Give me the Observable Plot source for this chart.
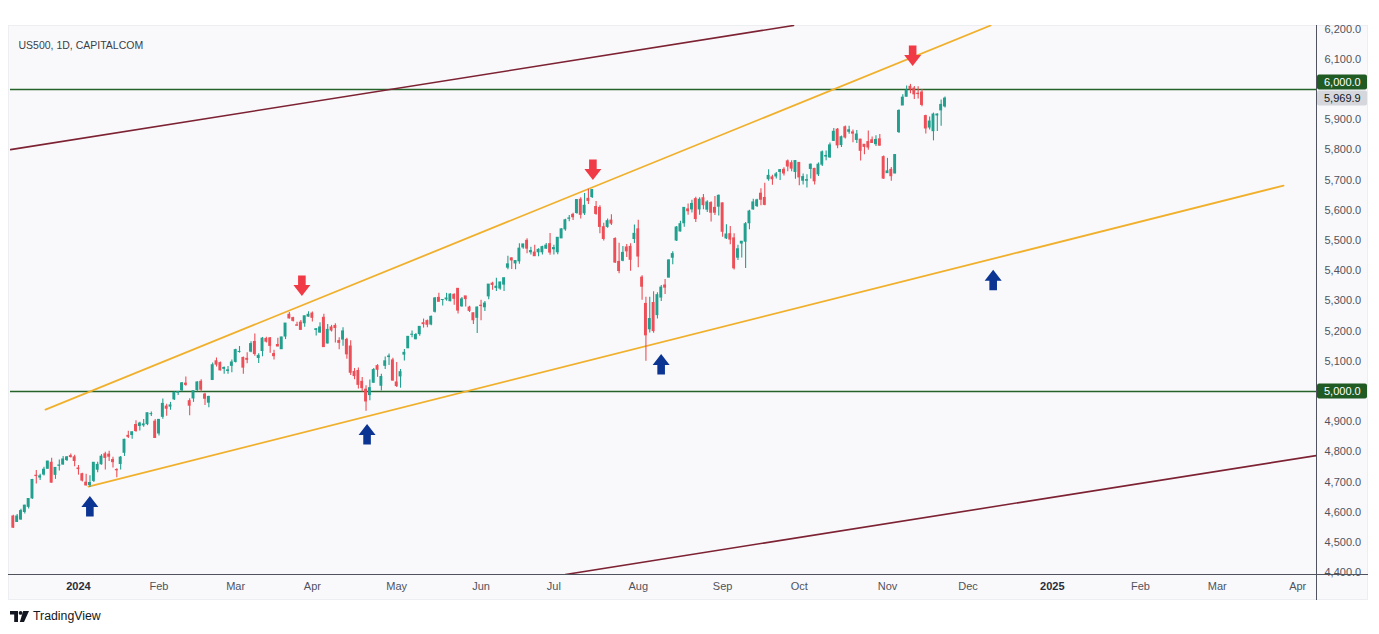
<!DOCTYPE html>
<html><head><meta charset="utf-8">
<script src="https://cdn.jsdelivr.net/npm/d3@7"></script>
<script src="https://cdn.jsdelivr.net/npm/@observablehq/plot@0.6"></script>
<style>
body{margin:0;background:#fff;font-family:"Liberation Sans",Arial,sans-serif;}
#wrap{position:relative;width:1379px;height:634px;overflow:hidden}
#pane{position:absolute;left:8px;top:25px;width:1360px;height:575px;background:#f9f9fb;border:1px solid #eceef2;box-sizing:border-box}
#xband{position:absolute;left:8px;top:574px;width:1360px;height:26px;border-top:1px solid #50535e;box-sizing:border-box}
#yband{position:absolute;left:1316px;top:25px;width:52px;height:575px;border-left:1px solid #50535e;box-sizing:border-box}
#chart{position:absolute;left:0;top:0}
#logo{position:absolute;left:10px;top:609px;display:flex;align-items:center;gap:4px;font-size:12.3px;color:#131722}
</style></head>
<body>
<div id="wrap">
  <div id="pane"></div>
  <div id="xband"></div>
  <div id="yband"></div>
  <div id="chart"></div>
  <div id="logo"><svg width="19" height="11" viewBox="0 0 19 11"><path d="M0 0h8v11H4.2V3.6H0z" fill="#131722"/><circle cx="10.6" cy="1.9" r="1.9" fill="#131722"/><path d="M13.2 0h5.8l-5 11h-4.2z" fill="#131722"/></svg><span>TradingView</span></div>
</div>
<script>
// ---- data ----
const title = "US500, 1D, CAPITALCOM";
const startDate = "2023-12-06";
const endDate = "2025-04-30";
const holidays = ["2023-12-25","2024-01-01","2024-01-15","2024-02-19","2024-03-29","2024-05-27","2024-06-19","2024-07-04","2024-09-02"];
const tickMonths = ["2024-01","2024-02","2024-03","2024-04","2024-05","2024-06","2024-07","2024-08","2024-09","2024-10","2024-11","2024-12","2025-01","2025-02","2025-03","2025-04"];
const tickLabels = ["2024","Feb","Mar","Apr","May","Jun","Jul","Aug","Sep","Oct","Nov","Dec","2025","Feb","Mar","Apr"];
const priceTicks = [4400,4500,4600,4700,4800,4900,5000,5100,5200,5300,5400,5500,5600,5700,5800,5900,6000,6100,6200];
const levels = [6000, 5000];

// [open, high, low, close]
const dec2023 = [[4586,4590,4546,4549],[4568,4593,4566,4586],[4576,4610,4574,4604],[4601,4623,4594,4622],[4618,4644,4611,4644],[4646,4709,4643,4707],[4721,4738,4694,4720],[4715,4726,4705,4719],[4725,4749,4720,4741],[4744,4769,4743,4768],[4764,4779,4697,4698],[4724,4748,4709,4747],[4754,4773,4737,4755],[4758,4785,4757,4775],[4773,4785,4768,4782],[4786,4793,4780,4783],[4782,4789,4751,4770]];
const jan2024 = [[4745,4755,4723,4743],[4726,4729,4700,4705],[4698,4726,4687,4689],[4690,4721,4682,4697],[4704,4764,4699,4764],[4741,4766,4731,4757],[4759,4791,4756,4784],[4792,4799,4740,4780],[4791,4802,4768,4784],[4773,4782,4747,4766],[4740,4744,4714,4739],[4760,4785,4740,4781],[4797,4842,4785,4840],[4853,4868,4844,4850],[4856,4866,4842,4865],[4889,4903,4865,4869],[4886,4898,4869,4894],[4888,4907,4882,4891],[4892,4929,4887,4928],[4925,4932,4917,4925],[4900,4907,4845,4846]];
const feb2024 = [[4861,4907,4853,4906],[4916,4975,4908,4959],[4950,4958,4918,4943],[4950,4964,4938,4954],[4974,4999,4970,4995],[4996,5000,4987,4998],[5004,5030,4999,5027],[5026,5048,5017,5022],[4968,4976,4920,4953],[4977,5002,4964,5001],[5005,5032,4999,5030],[5032,5039,4998,5006],[4990,4994,4954,4976],[4963,4984,4946,4982],[5038,5094,5038,5087],[5100,5111,5081,5089],[5094,5098,5068,5070],[5075,5081,5057,5078],[5068,5083,5057,5070],[5085,5104,5062,5096]];
const mar2024 = [[5098,5140,5094,5137],[5131,5149,5127,5131],[5111,5114,5057,5079],[5108,5128,5092,5105],[5132,5165,5128,5157],[5164,5190,5117,5124],[5111,5125,5093,5118],[5134,5179,5115,5175],[5174,5180,5161,5165],[5176,5179,5127,5151],[5124,5137,5104,5117],[5154,5176,5148,5149],[5140,5180,5139,5179],[5182,5225,5172,5225],[5254,5262,5240,5242],[5243,5246,5230,5234],[5219,5229,5216,5218],[5228,5235,5203,5204],[5226,5250,5213,5249],[5248,5264,5246,5254]];
const apr2024 = [[5258,5263,5230,5244],[5204,5209,5184,5206],[5195,5228,5194,5212],[5244,5256,5146,5147],[5159,5222,5157,5204],[5212,5219,5197,5202],[5217,5224,5161,5210],[5167,5178,5138,5161],[5172,5211,5150,5199],[5171,5176,5107,5123],[5149,5168,5053,5062],[5065,5076,5039,5051],[5068,5078,5008,5022],[5032,5046,4998,5011],[5006,5019,4935,4967],[4988,5038,4969,5011],[5029,5076,5027,5071],[5084,5089,5047,5072],[5019,5057,5002,5048],[5085,5114,5073,5100],[5114,5124,5086,5116],[5103,5110,5035,5036]];
const may2024 = [[5030,5096,5013,5018],[5050,5073,5011,5064],[5122,5139,5101,5128],[5143,5182,5143,5181],[5188,5200,5178,5188],[5173,5192,5171,5187],[5190,5215,5183,5214],[5226,5240,5210,5223],[5233,5237,5211,5221],[5222,5250,5218,5247],[5264,5311,5260,5308],[5310,5325,5297,5297],[5303,5305,5283,5303],[5305,5325,5299,5308],[5299,5324,5297,5321],[5320,5324,5286,5307],[5340,5341,5257,5268],[5282,5311,5279,5305],[5315,5315,5280,5306],[5278,5282,5262,5267],[5259,5260,5222,5236],[5244,5280,5192,5278]];
const jun2024 = [[5284,5302,5234,5283],[5279,5298,5265,5291],[5315,5354,5304,5354],[5357,5362,5335,5353],[5343,5375,5331,5347],[5341,5362,5335,5361],[5354,5376,5331,5375],[5410,5448,5403,5421],[5441,5442,5404,5434],[5424,5432,5403,5432],[5431,5489,5421,5473],[5477,5488,5471,5487],[5499,5506,5456,5473],[5461,5478,5452,5465],[5460,5484,5447,5448],[5461,5473,5446,5469],[5461,5481,5452,5478],[5473,5490,5471,5483],[5488,5523,5451,5460]];
const jul2024 = [[5471,5484,5452,5475],[5461,5510,5453,5509],[5507,5539,5507,5537],[5537,5570,5531,5567],[5572,5583,5562,5573],[5585,5590,5566,5577],[5591,5635,5587,5634],[5635,5642,5571,5585],[5590,5656,5583,5615],[5638,5670,5619,5631],[5644,5669,5639,5667],[5611,5629,5584,5588],[5608,5615,5522,5545],[5544,5557,5498,5505],[5545,5571,5541,5564],[5566,5585,5550,5556],[5505,5509,5424,5427],[5429,5491,5390,5399],[5433,5480,5430,5459],[5477,5487,5444,5464],[5479,5489,5398,5436],[5505,5551,5490,5522]];
const aug2024 = [[5537,5567,5410,5447],[5377,5383,5302,5347],[5290,5312,5100,5186],[5206,5312,5194,5240],[5293,5330,5193,5200],[5253,5327,5240,5319],[5311,5351,5298,5344],[5351,5371,5321,5344],[5377,5436,5377,5434],[5443,5463,5420,5455],[5500,5546,5497,5543],[5530,5564,5528,5554],[5557,5608,5544,5608],[5603,5621,5584,5597],[5603,5633,5591,5621],[5637,5643,5560,5571],[5603,5642,5584,5635],[5640,5652,5602,5617],[5602,5632,5593,5626],[5624,5628,5561,5592],[5608,5646,5583,5592],[5612,5651,5581,5648]];
const sep2024 = [[5623,5624,5511,5529],[5507,5552,5503,5520],[5521,5546,5486,5503],[5507,5522,5402,5408],[5443,5484,5434,5471],[5490,5497,5442,5496],[5496,5560,5407,5554],[5557,5600,5536,5596],[5603,5637,5600,5626],[5614,5637,5609,5633],[5655,5671,5615,5635],[5641,5690,5615,5618],[5703,5734,5696,5714],[5709,5716,5683,5703],[5712,5725,5704,5719],[5727,5735,5699,5733],[5734,5741,5714,5722],[5762,5767,5728,5745],[5756,5764,5728,5738],[5727,5765,5703,5763]];
const oct2024 = [[5757,5757,5681,5709],[5698,5720,5684,5710],[5698,5718,5674,5700],[5737,5753,5704,5751],[5737,5739,5684,5696],[5719,5757,5712,5751],[5751,5796,5745,5792],[5778,5796,5764,5780],[5775,5823,5772,5815],[5830,5871,5828,5860],[5867,5871,5804,5815],[5816,5846,5808,5842],[5875,5879,5836,5841],[5860,5878,5852,5865],[5858,5866,5824,5854],[5833,5864,5821,5851],[5834,5835,5763,5797],[5817,5818,5784,5810],[5826,5863,5799,5808],[5832,5843,5822,5823],[5819,5847,5811,5833],[5835,5851,5813,5814],[5776,5780,5703,5705]];
const nov2024 = [[5723,5772,5723,5729],[5734,5742,5696,5713],[5722,5784,5721,5783],[5859,5933,5854,5929],[5947,5983,5947,5973],[5976,6012,5976,5996],[6009,6017,5986,6001],[6003,6010,5967,5984],[5986,6009,5969,5985],[5990,6000,5943,5949],[5912,5915,5853,5871],[5874,5909,5866,5894],[5862,5922,5830,5917],[5914,5920,5861,5917],[5931,5965,5878,5949],[5944,5975,5939,5969.9]];

// drawings: [barIndex, price] endpoints
const maroonUpper = [[-0.73, 5801], [203.5, 6212]];
const maroonLower = [[144.0, 4394], [339.9, 4788]];
const orangeUpper = [[8.4, 4940], [254.9, 6212]];
const orangeLower = [[19.6, 4685], [331.3, 5682]];
const arrowIdx   = [75.4, 151.3, 234.7, 20.1, 92.4, 169.1, 255.7];
const arrowPrice = [5348, 5732, 6109, 4619, 4858, 5089, 5368];
const arrowDir   = ["down","down","down","up","up","up","up"];

// ---- build ----
const candles = [].concat(dec2023, jan2024, feb2024, mar2024, apr2024, may2024, jun2024, jul2024, aug2024, sep2024, oct2024, nov2024);
const days = [];
for (let t = Date.parse(startDate + "T00:00:00Z"); t <= Date.parse(endDate + "T00:00:00Z"); t += 864e5) {
  const d = new Date(t), wd = d.getUTCDay();
  if (wd === 0 || wd === 6) continue;
  const s = d.toISOString().slice(0, 10);
  if (holidays.includes(s)) continue;
  days.push(s);
}
const UP = "#22a08f", DOWN = "#ec4f57";
const data = candles.map(([o, h, l, c], i) => ({i, date: days[i], o, h, l, c, col: c >= o ? UP : DOWN}));
const ticks = tickMonths.map((m, k) => ({i: days.findIndex(d => d.startsWith(m)), label: tickLabels[k], year: /^\d{4}$/.test(tickLabels[k])}));
const lastClose = candles[candles.length - 1][3];
const fmt = d3.format(",.1f");
const toPts = (arr) => arr.map(([i, p]) => ({i, p}));
const arrows = arrowIdx.map((i, k) => ({i, p: arrowPrice[k], dir: arrowDir[k]}));

function priceTag(price, bg, fg, dy) {
  return (index, scales, values, dims) => {
    const y = scales.y(price) + dy;
    const x0 = dims.width - dims.marginRight + 1;
    const g = d3.create("svg:g");
    g.append("rect").attr("x", x0).attr("y", y - 7.5).attr("width", 50).attr("height", 15).attr("rx", 2).attr("fill", bg);
    g.append("text").attr("x", x0 + 7).attr("y", y).attr("dy", "0.35em").attr("fill", fg)
      .attr("text-anchor", "start").attr("font-size", 11)
      .attr("font-family", "Liberation Sans, Arial, sans-serif").text(fmt(price));
    return g.node();
  };
}
function arrowMark(index, scales) {
  const g = d3.create("svg:g");
  for (const a of arrows) {
    const x = scales.x(a.i), y = scales.y(a.p);
    const d = a.dir === "down"
      ? "M-3.8,-10.5H3.8V-1H8.5L0,10L-8.5,-1H-3.8Z"
      : "M-3.8,10.5H3.8V1H8.5L0,-10L-8.5,1H-3.8Z";
    g.append("path").attr("transform", `translate(${x},${y})`).attr("d", d)
      .attr("fill", a.dir === "down" ? "#f03a46" : "#0c3493");
  }
  return g.node();
}

const chart = Plot.plot({
  width: 1379, height: 605,
  marginLeft: 10, marginRight: 63, marginTop: 25, marginBottom: 31,
  style: {background: "transparent", fontFamily: "Liberation Sans, Arial, sans-serif", fontSize: "11px", overflow: "visible"},
  x: {type: "linear", domain: [-0.73, 339.9], axis: null},
  y: {domain: [4394, 6212]},
  marks: [
    Plot.axisY(priceTicks.filter(p => !levels.includes(p)), {anchor: "right", tickSize: 0, tickPadding: 8, tickFormat: fmt, fill: "#50535e", label: null, fontSize: 11}),
    Plot.text(ticks.filter(t => !t.year), {x: "i", frameAnchor: "bottom", dy: 15, text: "label", fill: "#50535e", fontSize: 11}),
    Plot.text(ticks.filter(t => t.year), {x: "i", frameAnchor: "bottom", dy: 15, text: "label", fill: "#2a2e39", fontSize: 11, fontWeight: "bold"}),
    Plot.text([title], {frameAnchor: "top-left", dx: 8, dy: 16, textAnchor: "start", fill: "#3b3e47", fontSize: 10.5}),
    Plot.ruleY(levels, {stroke: "#26632a", strokeWidth: 1.5}),
    Plot.line(toPts(maroonUpper), {x: "i", y: "p", stroke: "#7d2233", strokeWidth: 1.6, clip: true}),
    Plot.line(toPts(maroonLower), {x: "i", y: "p", stroke: "#7d2233", strokeWidth: 1.6, clip: true}),
    Plot.line(toPts(orangeUpper), {x: "i", y: "p", stroke: "#f0b02c", strokeWidth: 1.8, clip: true}),
    Plot.line(toPts(orangeLower), {x: "i", y: "p", stroke: "#f0b02c", strokeWidth: 1.8, clip: true}),
    Plot.ruleX(data, {x: "i", y1: "l", y2: "h", stroke: "col", strokeWidth: 1.1, clip: true}),
    Plot.rect(data, {x1: d => d.i - 0.38, x2: d => d.i + 0.38, y1: "o", y2: "c", fill: "col", insetTop: -0.5, insetBottom: -0.5, clip: true}),
    arrowMark,
    priceTag(6000, "#1f5b22", "#ffffff", -7),
    priceTag(5000, "#1f5b22", "#ffffff", 0),
    priceTag(lastClose, "#d5d7dc", "#131722", 0)
  ]
});
document.getElementById("chart").appendChild(chart);
</script>
</body></html>
